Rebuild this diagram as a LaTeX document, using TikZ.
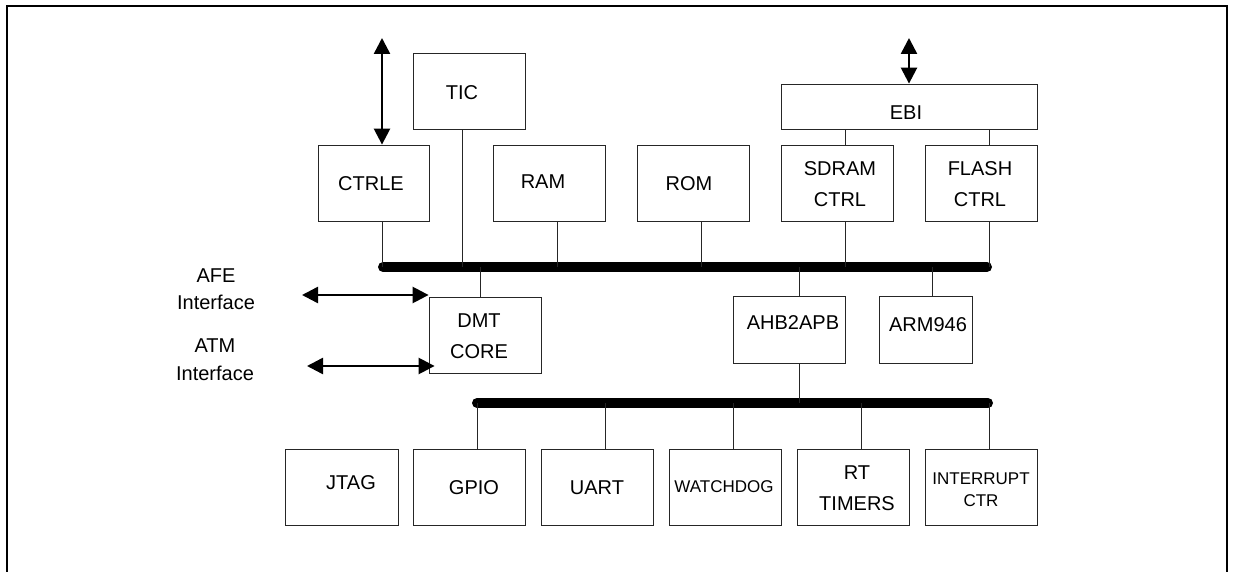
\documentclass[tikz,border=0pt]{standalone}
\usepackage{fontspec}
\setmainfont{Liberation Sans}
\usetikzlibrary{arrows.meta}
\begin{document}
\begin{tikzpicture}[x=1pt,y=-1pt,
  box/.style={draw=black!85, line width=0.8pt, inner sep=0pt, minimum width=112pt, minimum height=76pt},
  lbl/.style={font=\fontsize{20}{31}\selectfont, align=center, inner sep=0pt},
  sml/.style={font=\fontsize{17}{22}\selectfont, align=center, inner sep=0pt},
  side/.style={font=\fontsize{20}{27.5}\selectfont, align=center, inner sep=0pt},
  wire/.style={draw=black!85, line width=0.8pt},
  bus/.style={line width=10pt, line cap=round},
  dblarr/.style={line width=2.5pt, {Triangle[length=16pt,width=16pt]}-{Triangle[length=16pt,width=16pt]}},
  frame/.style={line width=2pt}]
\useasboundingbox (0,0) rectangle (1237,572);
\draw[frame] (7,572) -- (7,6) -- (1226.5,6) -- (1226.5,572);

% boxes
\node[box] (tic) at (469,91) {};
\node[box, minimum width=111pt] (ctrle) at (373.5,183) {};
\node[box] (ram) at (549,183) {};
\node[box] (rom) at (693,183) {};
\node[box, minimum width=256pt, minimum height=45pt] (ebi) at (909,106.5) {};
\node[box] (sdram) at (837,183) {};
\node[box] (flash) at (981,183) {};
\node[box] (dmt) at (485,335) {};
\node[box, minimum height=67pt] (ahb) at (789,329.5) {};
\node[box, minimum width=93pt, minimum height=67pt] (arm) at (925.5,329.5) {};
\node[box, minimum width=113pt] (jtag) at (341.5,487) {};
\node[box] (gpio) at (469,487) {};
\node[box] (uart) at (597,487) {};
\node[box] (wdog) at (725,487) {};
\node[box] (rtt) at (853,487) {};
\node[box] (intc) at (981,487) {};

% texts
\node[lbl] (tic-t) at (462,93) {TIC};
\node[lbl] (ctrle-t) at (371,184) {CTRLE};
\node[lbl] (ram-t) at (543,182) {RAM};
\node[lbl] (rom-t) at (689,184) {ROM};
\node[lbl] (ebi-t) at (906,113) {EBI};
\node[lbl] (sdram-t) at (840,184.5) {SDRAM\\CTRL};
\node[lbl] (flash-t) at (980,184.5) {FLASH\\CTRL};
\node[lbl] (dmt-t) at (479,336.5) {DMT\\CORE};
\node[lbl] (ahb-t) at (793,323) {AHB2APB};
\node[lbl] (arm-t) at (928,325) {ARM946};
\node[lbl] (jtag-t) at (351,483) {JTAG};
\node[lbl] (gpio-t) at (474,488) {GPIO};
\node[lbl] (uart-t) at (597,488) {UART};
\node[sml] (wdog-t) at (724,487) {WATCHDOG};
\node[lbl] (rtt-t) at (857,488.5) {RT\\TIMERS};
\node[sml] (intc-t) at (981,490) {INTERRUPT\\CTR};
\node[side] (afe-t) at (216,289) {AFE\\Interface};
\node[side] (atm-t) at (215,359.5) {ATM\\Interface};

% buses
\coordinate (b1l) at (383,267);
\coordinate (b1r) at (987,267);
\coordinate (b2l) at (477,403);
\coordinate (b2r) at (988,403);
\draw[bus] (b1l) -- (b1r);
\draw[bus] (b2l) -- (b2r);

% connectors to upper bus
\draw[wire] (ctrle.south -| 382,0) -- (382,0 |- b1l);
\draw[wire] (tic.south -| 462,0) -- (462,0 |- b1l);
\draw[wire] (ram.south -| 557,0) -- (557,0 |- b1l);
\draw[wire] (rom.south -| 701,0) -- (701,0 |- b1l);
\draw[wire] (sdram.south -| 845,0) -- (845,0 |- b1l);
\draw[wire] (flash.south -| 989,0) -- (989,0 |- b1l);
\draw[wire] (ebi.south -| 845,0) -- (sdram.north -| 845,0);
\draw[wire] (ebi.south -| 989,0) -- (flash.north -| 989,0);
\draw[wire] (480,0 |- b1l) -- (dmt.north -| 480,0);
\draw[wire] (799,0 |- b1l) -- (ahb.north -| 799,0);
\draw[wire] (932,0 |- b1l) -- (arm.north -| 932,0);

% connectors to lower bus
\draw[wire] (ahb.south -| 799,0) -- (799,0 |- b2l);
\draw[wire] (477,0 |- b2l) -- (gpio.north -| 477,0);
\draw[wire] (605,0 |- b2l) -- (uart.north -| 605,0);
\draw[wire] (733,0 |- b2l) -- (wdog.north -| 733,0);
\draw[wire] (861,0 |- b2l) -- (rtt.north -| 861,0);
\draw[wire] (989,0 |- b2l) -- (intc.north -| 989,0);

% external arrows
\coordinate (ctrleext) at (382,38);
\draw[dblarr] (ctrleext) -- (ctrle.north -| ctrleext);
\coordinate (ebiext) at (909,38);
\draw[dblarr] (ebiext) -- (ebi.north -| ebiext);
\coordinate (afe) at (302,295);
\draw[dblarr] (afe) -- (dmt.west |- afe);
\coordinate (atm) at (307,366);
\path (dmt.west |- atm) ++(6,0) coordinate (atme);
\draw[dblarr] (atm) -- (atme);
\end{tikzpicture}
\end{document}
